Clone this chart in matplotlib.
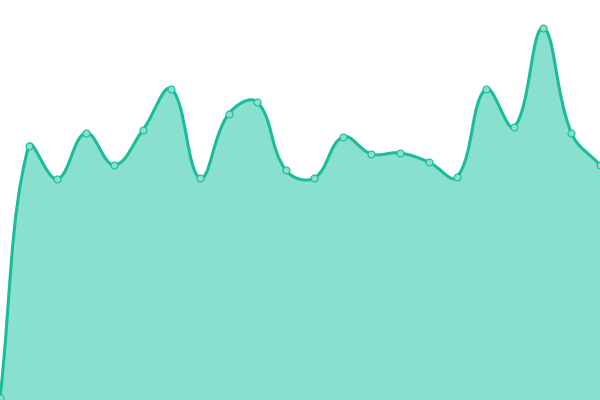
import numpy as np
import matplotlib
matplotlib.use("Agg")
import matplotlib.pyplot as plt
from matplotlib.path import Path
from matplotlib.patches import PathPatch

# Data (0..400 scale)
labels = list(range(22))
values = [2, 254, 221, 267, 235, 270, 311, 222, 286, 298, 230,
          222, 263, 246, 247, 238, 223, 311, 273, 372, 267, 235]

W, H = 600, 400
tension = 0.4
line_color = "#1abc9c"
fill_color = "#8ae0cf"

x = np.array(labels, dtype=float)
y = np.array(values, dtype=float)
n = len(x)
sx = W / (n - 1)  # pixels per index

# chart.js style spline control points, computed in pixel space
px = x * sx
py = y.copy()
cp_prev = []
cp_next = []
for i in range(n):
    p0 = (px[max(i - 1, 0)], py[max(i - 1, 0)])
    p1 = (px[i], py[i])
    p2 = (px[min(i + 1, n - 1)], py[min(i + 1, n - 1)])
    d01 = np.hypot(p1[0] - p0[0], p1[1] - p0[1])
    d12 = np.hypot(p2[0] - p1[0], p2[1] - p1[1])
    tot = d01 + d12
    s01 = d01 / tot if tot else 0
    s12 = d12 / tot if tot else 0
    fa = tension * s01
    fb = tension * s12
    cp_prev.append((p1[0] - fa * (p2[0] - p0[0]), p1[1] - fa * (p2[1] - p0[1])))
    cp_next.append((p1[0] + fb * (p2[0] - p0[0]), p1[1] + fb * (p2[1] - p0[1])))

def clamp(pt):
    return (min(max(pt[0], 0), W) / sx, min(max(pt[1], 0), H))

verts = [(x[0], y[0])]
codes = [Path.MOVETO]
for i in range(n - 1):
    verts += [clamp(cp_next[i]), clamp(cp_prev[i + 1]), (x[i + 1], y[i + 1])]
    codes += [Path.CURVE4] * 3

line_path = Path(verts, codes)
fill_path = Path(verts + [(x[-1], 0), (x[0], 0), (x[0], y[0])],
                 codes + [Path.LINETO, Path.LINETO, Path.CLOSEPOLY])

fig = plt.figure(figsize=(6, 4), dpi=100)
ax = fig.add_axes([0, 0, 1, 1])
ax.add_patch(PathPatch(fill_path, facecolor=fill_color, edgecolor="none"))
ax.add_patch(PathPatch(line_path, facecolor="none", edgecolor=line_color,
                       lw=2.2, capstyle="round", joinstyle="round"))
ax.plot(x, y, linestyle="none", marker="o", markersize=5,
        markerfacecolor=fill_color, markeredgecolor=line_color,
        markeredgewidth=0.8, clip_on=False)

ax.set_xlim(0, n - 1)
ax.set_ylim(0, H)
ax.axis("off")

fig.savefig("out.png", dpi=100)
